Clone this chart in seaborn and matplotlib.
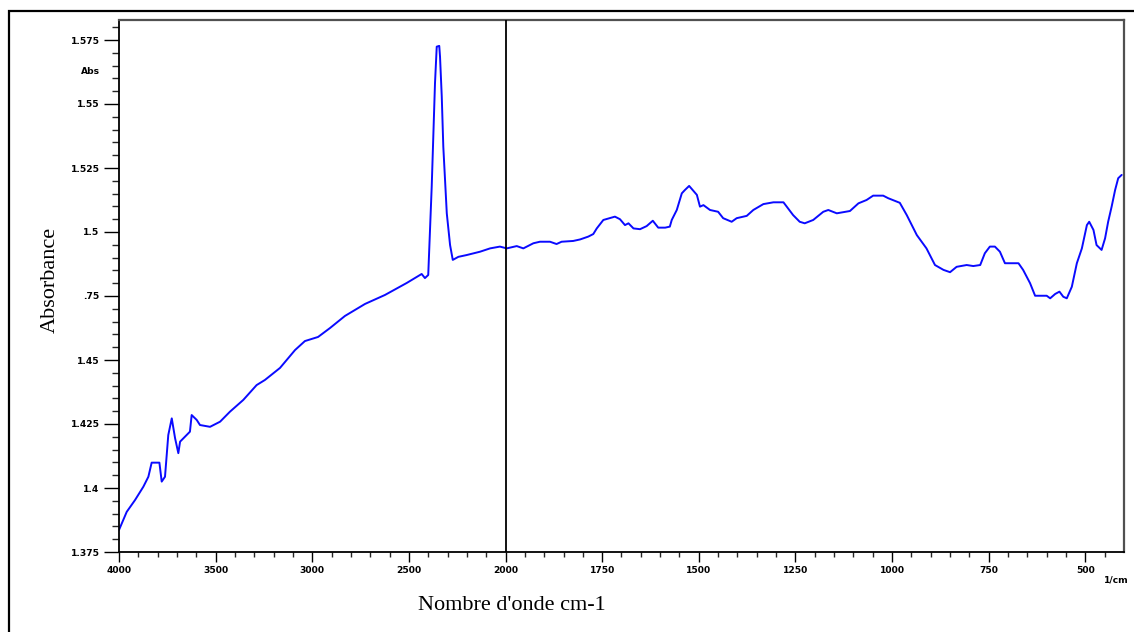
import numpy as np
import pandas as pd
import matplotlib
matplotlib.use("Agg")
import matplotlib.pyplot as plt
from matplotlib.patches import Rectangle
from matplotlib.ticker import FixedLocator, FixedFormatter
import seaborn as sns

# FTIR spectrum: wavenumber (cm-1) and absorbance
wavenumber = [
    4000, 3960, 3917, 3874, 3848, 3831, 3791, 3779, 3762, 3745, 3727, 3710,
    3693, 3684, 3650, 3633, 3624, 3598, 3581, 3529, 3477, 3426, 3357, 3288,
    3245, 3167, 3089, 3038, 2970, 2908, 2831, 2727, 2624, 2511, 2434, 2417,
    2400, 2391, 2382, 2374, 2365, 2356, 2343, 2339, 2330, 2322, 2304, 2287,
    2273, 2244, 2201, 2132, 2080, 2029, 1997, 1971, 1954, 1928, 1911, 1885,
    1868, 1855, 1825, 1807, 1786, 1773, 1764, 1747, 1717, 1704, 1691, 1682,
    1669, 1652, 1635, 1619, 1605, 1587, 1575, 1570, 1557, 1544, 1536, 1525,
    1516, 1505, 1497, 1488, 1471, 1450, 1437, 1415, 1402, 1376, 1359, 1333,
    1307, 1281, 1256, 1239, 1226, 1204, 1178, 1165, 1143, 1109, 1087, 1066,
    1049, 1023, 1010, 980, 962, 936, 911, 889, 867, 850, 833, 807,
    790, 772, 760, 747, 734, 721, 708, 686, 673, 661, 643, 630,
    600, 591, 578, 567, 557, 548, 535, 522, 509, 496, 490, 479,
    471, 458, 449, 441, 432, 423, 415, 406,
]
absorbance = [
    1.3836, 1.3907, 1.3953, 1.4005, 1.4044, 1.4099, 1.4099, 1.4025, 1.4044, 1.4207, 1.4272, 1.4195,
    1.4136, 1.4181, 1.4207, 1.4220, 1.4285, 1.4266, 1.4246, 1.4239, 1.4259, 1.4298, 1.4344, 1.4402,
    1.4422, 1.4469, 1.4539, 1.4574, 1.4590, 1.4625, 1.4672, 1.4719, 1.4754, 1.4801, 1.4836, 1.4820,
    1.4832, 1.5008, 1.5177, 1.5372, 1.5581, 1.5724, 1.5727, 1.5685, 1.5529, 1.5333, 1.5073, 1.4949,
    1.4891, 1.4903, 1.4910, 1.4923, 1.4936, 1.4943, 1.4936, 1.4945, 1.4936, 1.4956, 1.4962, 1.4962,
    1.4953, 1.4962, 1.4965, 1.4971, 1.4982, 1.4992, 1.5014, 1.5047, 1.5060, 1.5050, 1.5027, 1.5034,
    1.5014, 1.5011, 1.5023, 1.5044, 1.5017, 1.5017, 1.5021, 1.5047, 1.5086, 1.5151, 1.5164, 1.5180,
    1.5164, 1.5145, 1.5099, 1.5105, 1.5086, 1.5079, 1.5054, 1.5040, 1.5054, 1.5063, 1.5086, 1.5109,
    1.5116, 1.5116, 1.5066, 1.5040, 1.5034, 1.5047, 1.5079, 1.5086, 1.5073, 1.5082, 1.5112, 1.5125,
    1.5142, 1.5142, 1.5132, 1.5114, 1.5066, 1.4988, 1.4936, 1.4871, 1.4852, 1.4843, 1.4864, 1.4871,
    1.4867, 1.4871, 1.4917, 1.4943, 1.4943, 1.4923, 1.4878, 1.4878, 1.4878, 1.4852, 1.4800, 1.4751,
    1.4751, 1.4741, 1.4758, 1.4767, 1.4747, 1.4741, 1.4786, 1.4878, 1.4936, 1.5027, 1.5040, 1.5008,
    1.4949, 1.4930, 1.4975, 1.5040, 1.5099, 1.5164, 1.5210, 1.5223,
]

x_major = [4000, 3500, 3000, 2500, 2000, 1750, 1500, 1250, 1000, 750, 500]
x_major_labels = ["4000", "3500", "3000", "2500", "2000", "1750", "1500", "1250", "1000", "750", "500"]
y_major = [1.375, 1.4, 1.425, 1.45, 1.475, 1.5, 1.525, 1.55, 1.575]
y_major_labels = ["1.375", "1.4", "1.425", "1.45", ".75", "1.5", "1.525", "1.55", "1.575"]

df = pd.DataFrame({"wavenumber": wavenumber, "absorbance": absorbance})

sns.set_style("white")
plt.rcParams["font.family"] = ["DejaVu Sans"]

fig = plt.figure(figsize=(11.34, 6.32), dpi=100)
ax = fig.add_axes([119 / 1134, 1 - 552 / 632, (1124 - 119) / 1134, (552 - 20) / 632])


# Above 2000 cm-1 the axis is compressed by a factor of two
def fwd(x):
    x = np.asarray(x, dtype=float)
    return np.where(x > 2000, 2000 + (x - 2000) / 2.0, x)


def inv(t):
    t = np.asarray(t, dtype=float)
    return np.where(t > 2000, 2000 + 2.0 * (t - 2000), t)


ax.set_xscale("function", functions=(fwd, inv))

sns.lineplot(data=df, x="wavenumber", y="absorbance", sort=False, estimator=None,
             color="#0a0aff", lw=1.4, ax=ax)

ax.set_xlim(4000, 400)
ax.set_ylim(1.375, 1.375 + 532 / 2560)

ax.axvline(2000, color="black", lw=1.3, zorder=5)

# ticks
x_minor = [v for v in range(3900, 2000, -100) if v not in x_major] + \
          [v for v in range(1950, 400, -50) if v not in x_major]
ax.xaxis.set_major_locator(FixedLocator(x_major))
ax.xaxis.set_major_formatter(FixedFormatter(x_major_labels))
ax.xaxis.set_minor_locator(FixedLocator(x_minor))
y_minor = [round(1.375 + 0.005 * i, 4) for i in range(0, 42) if i % 5 != 0]
ax.yaxis.set_major_locator(FixedLocator(y_major))
ax.yaxis.set_major_formatter(FixedFormatter(y_major_labels))
ax.yaxis.set_minor_locator(FixedLocator(y_minor))

tick_font = dict(labelsize=6.6, colors="black")
ax.tick_params(axis="x", which="major", direction="out", length=7, width=1, pad=3,
               bottom=True, **tick_font)
ax.tick_params(axis="x", which="minor", direction="out", length=3.5, width=1, bottom=True)
ax.tick_params(axis="y", which="major", direction="out", length=11, width=1, pad=3,
               left=True, **tick_font)
ax.tick_params(axis="y", which="minor", direction="out", length=5, width=1, left=True)
for lab in ax.get_xticklabels() + ax.get_yticklabels():
    lab.set_fontweight("bold")

ax.set_xlabel("")
ax.set_ylabel("")

for side in ("left", "bottom"):
    ax.spines[side].set_color("black")
    ax.spines[side].set_linewidth(1.3)
for side in ("top", "right"):
    ax.spines[side].set_color("#505050")
    ax.spines[side].set_linewidth(1.6)

# unit labels on the y axis and x axis
ax.text(-0.019, 1.5625, "Abs", transform=ax.get_yaxis_transform(), ha="right", va="center",
        fontsize=6.6, fontweight="bold", color="black")
fig.text(1116 / 1134, 1 - 580 / 632, "1/cm", ha="center", va="center", fontsize=6.6,
         fontweight="bold", color="black")

serif = ["Liberation Serif", "DejaVu Serif"]
fig.text(50 / 1134, 1 - 280 / 632, "Absorbance", rotation=90, ha="center", va="center",
         fontsize=16, family=serif, color="black")
fig.text(512 / 1134, 1 - 605 / 632, "Nombre d'onde cm-1", ha="center", va="center",
         fontsize=16, family=serif, color="black")

# outer frame
fig.patches.append(Rectangle((9 / 1134, -0.05), 1.2, 1 - 11 / 632 + 0.05, transform=fig.transFigure,
                             fill=False, edgecolor="black", lw=1.6))

fig.savefig("out.png", dpi=100)
